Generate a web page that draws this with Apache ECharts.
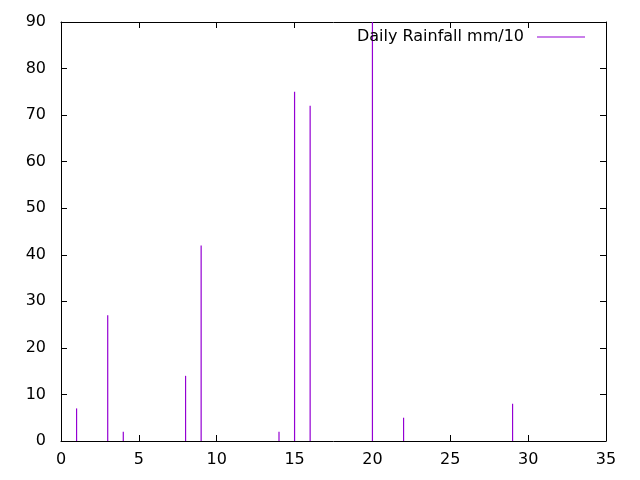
<!DOCTYPE html>
<html>
<head>
    <meta charset="utf-8">
    <title>Daily Rainfall</title>
    <script src="https://cdn.jsdelivr.net/npm/echarts@6/dist/echarts.min.js"></script>
    <style>
        html, body { margin: 0; padding: 0; background: #fff; }
        #chart1 { width: 640px; height: 480px; }
    </style>
</head>
<body>
<div id="chart1"></div>
<script type="text/javascript">
    // 每日降雨量 (mm/10)
    var days = [1, 3, 4, 8, 9, 14, 15, 16, 20, 22, 29];
    var rainfall = [7, 27, 2, 14, 42, 2, 75, 72, 90, 5, 8];
    var xTicks = [0, 5, 10, 15, 20, 25, 30, 35];
    var yTicks = [0, 10, 20, 30, 40, 50, 60, 70, 80, 90];

    var seriesData = days.map(function (d, i) { return [d, rainfall[i]]; });

    var font = 'DejaVu Sans';
    var axisLine = { show: true, onZero: false, lineStyle: { color: '#000', width: 1 } };
    var axisTick = { show: true, inside: true, length: 6, lineStyle: { color: '#000' } };

    var myChart1 = echarts.init(document.getElementById('chart1'));
    myChart1.setOption({
        animation: false,
        grid: { left: 61, right: 34, top: 22, bottom: 39 },
        legend: {
            data: ['Daily Rainfall mm/10'],
            right: 50,
            top: 24,
            align: 'right',
            icon: 'rect',
            itemWidth: 48,
            itemHeight: 1,
            itemGap: 0,
            textStyle: { fontFamily: font, fontSize: 16, color: '#000', padding: [0, 8, 0, 0] }
        },
        xAxis: [{
            type: 'value',
            min: xTicks[0], max: xTicks[xTicks.length - 1], interval: 5,
            axisLine: axisLine, axisTick: axisTick, splitLine: { show: false },
            axisLabel: { fontFamily: font, fontSize: 16, color: '#000', margin: 11 }
        }, {
            type: 'value', position: 'top',
            min: xTicks[0], max: xTicks[xTicks.length - 1], interval: 5,
            axisLine: axisLine, axisTick: axisTick, splitLine: { show: false },
            axisLabel: { show: false }
        }],
        yAxis: [{
            type: 'value',
            min: yTicks[0], max: yTicks[yTicks.length - 1], interval: 10,
            axisLine: axisLine, axisTick: axisTick, splitLine: { show: false },
            axisLabel: { fontFamily: font, fontSize: 16, color: '#000', margin: 15 }
        }, {
            type: 'value', position: 'right',
            min: yTicks[0], max: yTicks[yTicks.length - 1], interval: 10,
            axisLine: axisLine, axisTick: axisTick, splitLine: { show: false },
            axisLabel: { show: false }
        }],
        series: [{
            name: 'Daily Rainfall mm/10',
            type: 'bar',
            barWidth: 1.2,
            data: seriesData,
            itemStyle: { color: '#9400d3' }
        }]
    });
</script>
</body>
</html>
